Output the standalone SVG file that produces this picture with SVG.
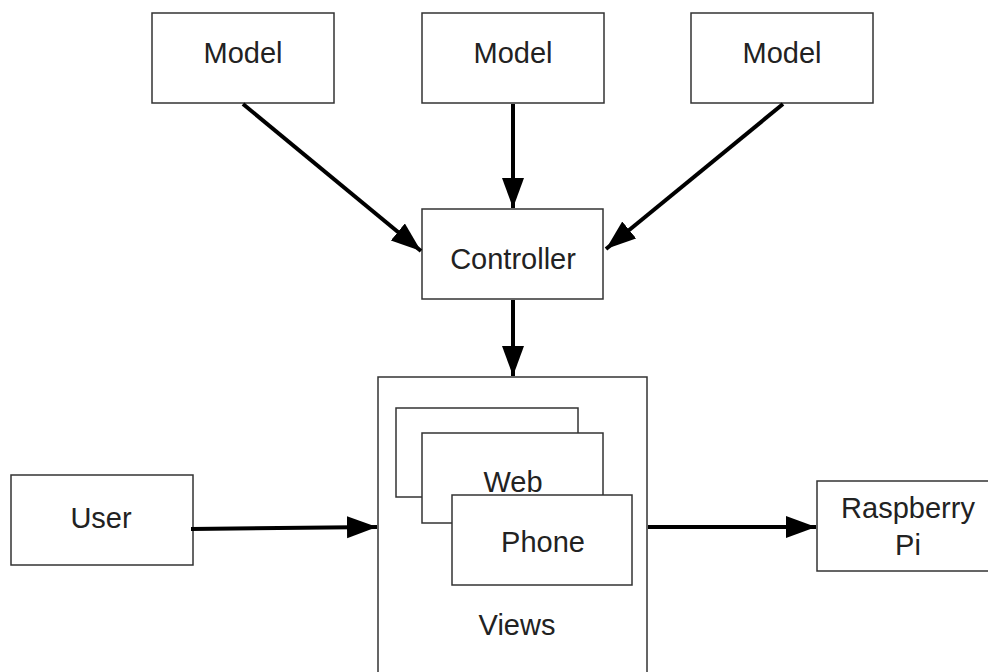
<svg xmlns="http://www.w3.org/2000/svg" width="988" height="672" viewBox="0 0 988 672">
<defs>
<style>
.box{fill:#fff;stroke:#333;stroke-width:1.5}
.lbl{font-family:"Liberation Sans",Arial,sans-serif;font-size:29px;fill:#222;text-anchor:middle}
.conn{stroke:#000;stroke-width:4;fill:none}
</style>
<marker id="ah" markerUnits="userSpaceOnUse" markerWidth="32" markerHeight="24" refX="30" refY="11" orient="auto">
<path d="M0,0 L30,11 L0,22 z" fill="#000"/>
</marker>
</defs>
<rect width="988" height="672" fill="#fff"/>
<g id="model1"><rect class="box" x="152" y="13" width="182" height="90"/><text class="lbl" x="243" y="63">Model</text></g>
<g id="model2"><rect class="box" x="422" y="13" width="182" height="90"/><text class="lbl" x="513" y="63">Model</text></g>
<g id="model3"><rect class="box" x="691" y="13" width="182" height="90"/><text class="lbl" x="782" y="63">Model</text></g>
<g id="controller"><rect class="box" x="422" y="209" width="181" height="90"/><text class="lbl" x="513" y="269">Controller</text></g>
<g id="views">
<rect class="box" x="378" y="377" width="269" height="310"/>
<rect class="box" x="396" y="408" width="182" height="89"/>
<rect class="box" x="422" y="433" width="181" height="90"/>
<text class="lbl" x="513" y="492">Web</text>
<rect class="box" x="452" y="495" width="180" height="90"/>
<text class="lbl" x="543" y="552">Phone</text>
<text class="lbl" x="517" y="635">Views</text>
</g>
<g id="user"><rect class="box" x="11" y="475" width="182" height="90"/><text class="lbl" x="101" y="528">User</text></g>
<g id="raspberry"><rect class="box" x="817" y="481" width="180" height="90"/><text class="lbl" x="908" y="518">Raspberry</text><text class="lbl" x="908" y="555">Pi</text></g>
<g id="connectors">
<line class="conn" x1="243" y1="104" x2="421" y2="251" marker-end="url(#ah)"/>
<line class="conn" x1="513" y1="104" x2="513" y2="208" marker-end="url(#ah)"/>
<line class="conn" x1="783" y1="104" x2="606" y2="249" marker-end="url(#ah)"/>
<line class="conn" x1="513" y1="300" x2="513" y2="376" marker-end="url(#ah)"/>
<line class="conn" x1="191" y1="529" x2="377" y2="527" marker-end="url(#ah)"/>
<line class="conn" x1="648" y1="527" x2="816" y2="527" marker-end="url(#ah)"/>
</g>
</svg>
